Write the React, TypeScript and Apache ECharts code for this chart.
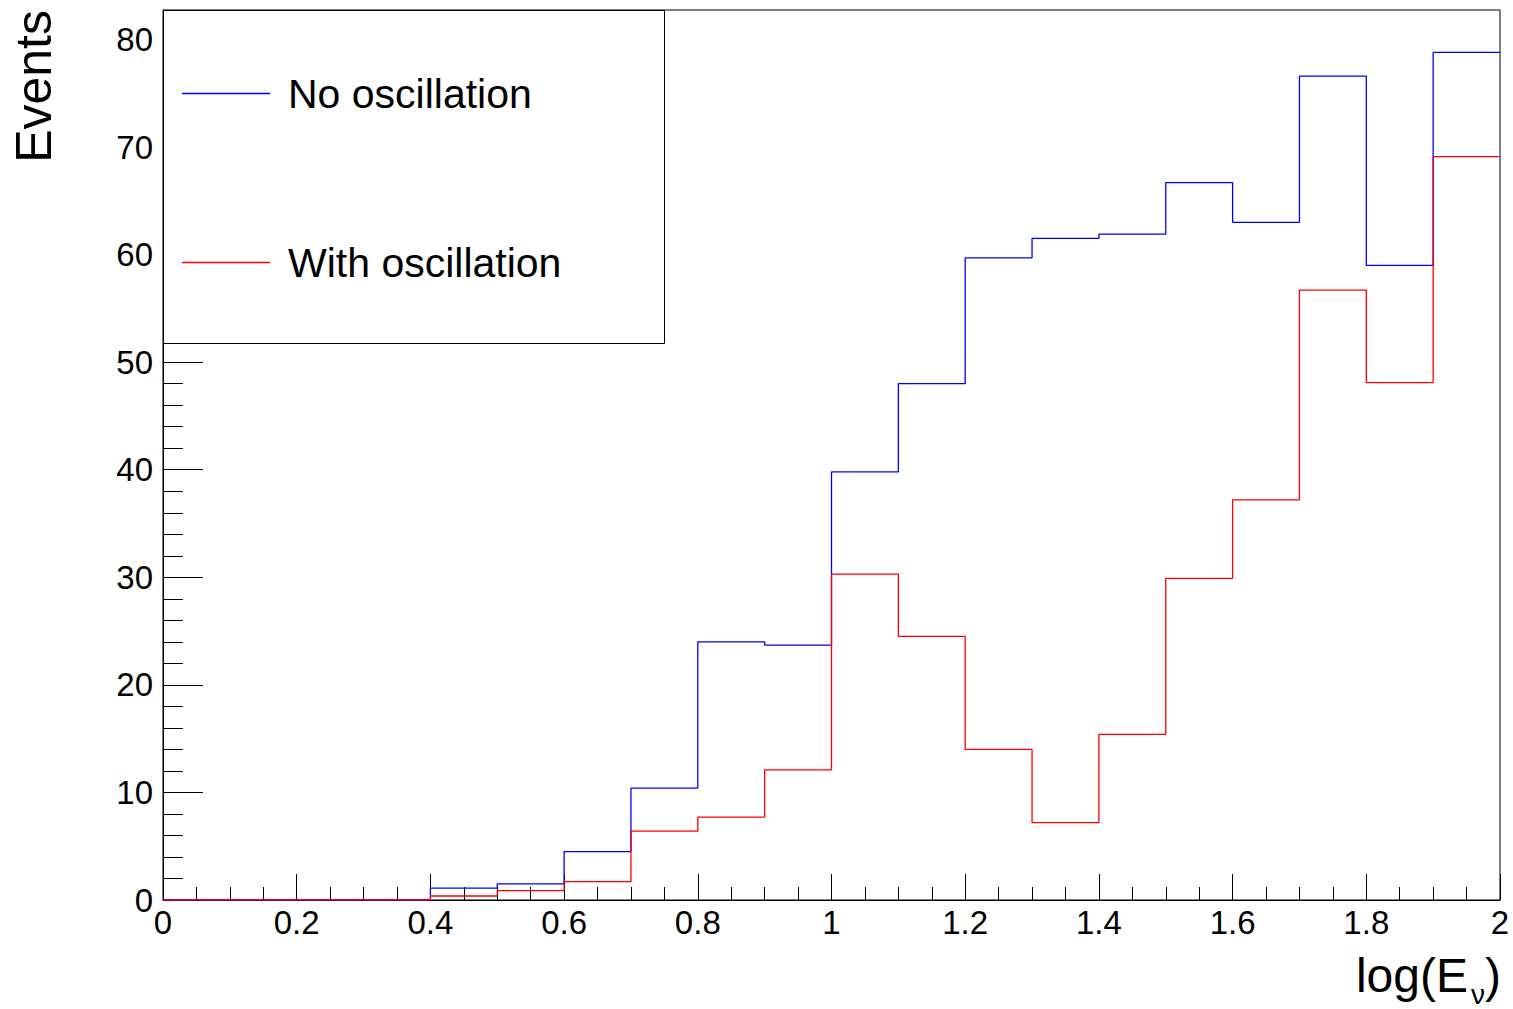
import React, { useEffect, useRef } from "react";
import * as echarts from "echarts";

const binEdges = [0, 0.1, 0.2, 0.3, 0.4, 0.5, 0.6, 0.7, 0.8, 0.9, 1.0, 1.1, 1.2, 1.3, 1.4, 1.5, 1.6, 1.7, 1.8, 1.9];
const upperEdge = 2;
const noOsc = [0, 0, 0, 0, 1.1, 1.5, 4.5, 10.4, 24.0, 23.7, 39.8, 48.0, 59.7, 61.5, 61.9, 66.7, 63.0, 76.6, 59.0, 78.8];
const withOsc = [0, 0, 0, 0, 0.37, 0.87, 1.7, 6.4, 7.7, 12.1, 30.3, 24.5, 14.0, 7.2, 15.4, 29.9, 37.2, 56.7, 48.1, 69.1];
const seriesNames = ["No oscillation", "With oscillation"];
const yMax = 82.74;

const FONT = "Liberation Sans, Arial, Helvetica, sans-serif";

function histPoints(vals: number[]) {
  const pts = binEdges.map((e, i) => [e, vals[i]]);
  pts.push([upperEdge, vals[vals.length - 1]]);
  return pts;
}

export default function App() {
  const ref = useRef<HTMLDivElement>(null);
  useEffect(() => {
    if (!ref.current) return;
    const chart = echarts.init(ref.current, undefined, { renderer: "svg" });
    chart.setOption({
      animation: false,
      backgroundColor: "#fff",
      textStyle: { fontFamily: FONT },
      grid: {
        left: 163,
        top: 10,
        right: 13,
        bottom: 109,
        show: true,
        borderColor: "#000",
        borderWidth: 1,
        backgroundColor: "transparent",
      },
      xAxis: {
        type: "value",
        min: 0,
        max: 2,
        interval: 0.2,
        axisLine: { lineStyle: { color: "#000", width: 1 } },
        axisTick: { inside: true, length: 26, lineStyle: { color: "#000" } },
        minorTick: { show: true, splitNumber: 4, length: 13, lineStyle: { color: "#000" } },
        splitLine: { show: false },
        axisLabel: { color: "#000", fontSize: 33, margin: 6, fontFamily: FONT },
      },
      yAxis: {
        type: "value",
        min: 0,
        max: yMax,
        interval: 10,
        axisLine: { show: true, lineStyle: { color: "#000", width: 1 } },
        axisTick: { show: true, inside: true, length: 40, lineStyle: { color: "#000" } },
        minorTick: { show: true, splitNumber: 5, length: 20, lineStyle: { color: "#000" } },
        splitLine: { show: false },
        axisLabel: { color: "#000", fontSize: 33, margin: 10, fontFamily: FONT, showMaxLabel: false },
      },
      legend: {
        data: seriesNames.map((n) => ({ name: n, icon: "rect" })),
        orient: "vertical",
        left: 182,
        top: 73,
        itemWidth: 88,
        itemHeight: 1.3,
        itemGap: 128,
        padding: 0,
        z: 10,
        textStyle: { fontSize: 41, lineHeight: 40, color: "#000", fontFamily: FONT, padding: [0, 0, 0, 13] },
      },
      graphic: [
        {
          type: "rect",
          z: 5,
          shape: { x: 163.5, y: 10.5, width: 501, height: 333 },
          style: { fill: "#fff", stroke: "#000", lineWidth: 1 },
        },
        {
          type: "text",
          x: 34,
          y: 10,
          rotation: Math.PI / 2,
          style: { text: "Events", fontSize: 50, fontFamily: FONT, fill: "#000", align: "right", verticalAlign: "middle" },
        },
        {
          type: "text",
          x: 1501,
          y: 975,
          style: { text: ")", fontSize: 48, fontFamily: FONT, fill: "#000", align: "right", verticalAlign: "middle" },
        },
        {
          type: "text",
          x: 1485,
          y: 994,
          style: { text: "ν", fontSize: 28, fontFamily: FONT, fill: "#000", align: "right", verticalAlign: "middle" },
        },
        {
          type: "text",
          x: 1468,
          y: 975,
          style: { text: "log(E", fontSize: 48, fontFamily: FONT, fill: "#000", align: "right", verticalAlign: "middle" },
        },
      ],
      series: [
        {
          name: seriesNames[0],
          type: "line",
          step: "end",
          symbol: "none",
          data: histPoints(noOsc),
          lineStyle: { color: "#0000ff", width: 1.3 },
          itemStyle: { color: "#0000ff" },
        },
        {
          name: seriesNames[1],
          type: "line",
          step: "end",
          symbol: "none",
          data: histPoints(withOsc),
          lineStyle: { color: "#ff0000", width: 1.3 },
          itemStyle: { color: "#ff0000" },
        },
      ],
    });
    return () => chart.dispose();
  }, []);
  return <div ref={ref} style={{ position: "fixed", left: 0, top: 0, width: 1513, height: 1009 }} />;
}
